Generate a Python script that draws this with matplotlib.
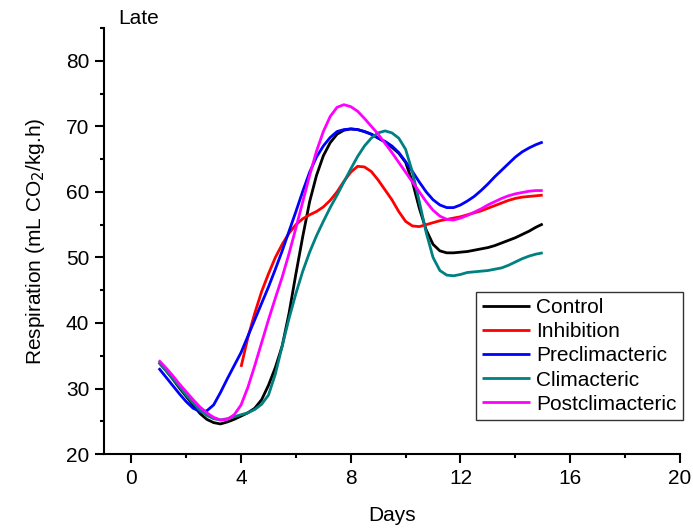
import numpy as np
import matplotlib
matplotlib.use("Agg")
import matplotlib.pyplot as plt
from matplotlib.ticker import MultipleLocator

plt.rcParams['font.family'] = ['Liberation Sans', 'DejaVu Sans']

# values every quarter day
days = np.arange(1, 15.01, 0.25)
days_inh = np.arange(4, 15.01, 0.25)

control = [34.0, 32.8, 31.5, 30.1, 28.8, 27.5, 26.2, 25.3, 24.8, 24.6, 24.9, 25.3,
           25.8, 26.3, 27.0, 28.3, 30.5, 33.2, 36.5, 41.5, 47.5, 53.2, 58.5, 62.5,
           65.5, 67.5, 68.8, 69.4, 69.6, 69.5, 69.2, 68.8, 68.2, 67.6, 66.8, 65.9,
           64.5, 61.5, 57.5, 54.2, 52.0, 51.0, 50.7, 50.7, 50.8, 50.9, 51.1, 51.3,
           51.5, 51.8, 52.2, 52.6, 53.0, 53.5, 54.0, 54.6, 55.1]
inhibition = [33.3, 37.8, 41.5, 44.8, 47.5, 50.0, 52.0, 53.7, 55.0, 55.9, 56.5, 57.0,
              57.7, 58.7, 60.0, 61.6, 63.0, 63.9, 63.8, 63.1, 61.8, 60.3, 58.8, 57.0,
              55.5, 54.8, 54.7, 55.0, 55.3, 55.6, 55.8, 56.0, 56.2, 56.5, 56.8, 57.1,
              57.5, 57.9, 58.3, 58.7, 59.0, 59.2, 59.3, 59.4, 59.5]
preclimacteric = [33.1, 31.8, 30.5, 29.2, 28.0, 27.0, 26.5, 26.6, 27.5, 29.4, 31.5, 33.5,
                  35.5, 38.0, 40.5, 43.0, 45.5, 48.2, 51.0, 54.0, 57.0, 60.1, 63.0, 65.3,
                  67.0, 68.3, 69.2, 69.5, 69.6, 69.5, 69.2, 68.8, 68.2, 67.7, 67.0, 66.0,
                  64.6, 63.1, 61.5, 60.0, 58.8, 58.0, 57.6, 57.6, 58.0, 58.6, 59.3, 60.2,
                  61.2, 62.3, 63.3, 64.3, 65.3, 66.1, 66.7, 67.2, 67.6]
climacteric = [34.0, 32.8, 31.6, 30.3, 29.0, 27.8, 26.7, 25.9, 25.4, 25.2, 25.4, 25.7,
               26.0, 26.3, 26.8, 27.6, 29.0, 32.2, 36.5, 40.7, 44.5, 47.9, 50.8, 53.3,
               55.5, 57.6, 59.5, 61.5, 63.5, 65.4, 67.0, 68.2, 69.0, 69.3, 69.0, 68.2,
               66.5, 63.0, 58.5, 53.8, 50.0, 48.0, 47.3, 47.2, 47.4, 47.7, 47.8, 47.9,
               48.0, 48.2, 48.4, 48.8, 49.3, 49.8, 50.2, 50.5, 50.7]
postclimacteric = [34.3, 33.2, 32.0, 30.7, 29.5, 28.3, 27.2, 26.3, 25.6, 25.2, 25.3, 26.0,
                   27.5, 30.2, 33.5, 37.0, 40.5, 43.8, 47.0, 50.6, 54.5, 58.5, 62.5, 66.2,
                   69.2, 71.5, 72.9, 73.3, 73.0, 72.3, 71.2, 70.0, 68.8, 67.4, 66.0, 64.5,
                   63.0, 61.5, 60.0, 58.5, 57.2, 56.3, 55.8, 55.7, 56.0, 56.4, 56.9, 57.4,
                   58.0, 58.5, 59.0, 59.4, 59.7, 59.9, 60.1, 60.2, 60.2]

fig = plt.figure(figsize=(6.93, 5.28), dpi=100)
ax = fig.add_axes([0.150, 0.140, 0.831, 0.807])

lw = 2.0
kw = dict(lw=lw, solid_joinstyle='round', solid_capstyle='butt')
ax.plot(days, control, color='black', label='Control', **kw)
ax.plot(days_inh, inhibition, color='#ff0000', label='Inhibition', **kw)
ax.plot(days, preclimacteric, color='#0000ff', label='Preclimacteric', **kw)
ax.plot(days, climacteric, color='#008080', label='Climacteric', **kw)
ax.plot(days, postclimacteric, color='#ff00ff', label='Postclimacteric', **kw)

ax.set_xlim(-1, 20)
ax.set_ylim(20, 85)
ax.set_xticks([0, 4, 8, 12, 16, 20])
ax.set_yticks([20, 30, 40, 50, 60, 70, 80])
ax.xaxis.set_minor_locator(MultipleLocator(2))
ax.yaxis.set_minor_locator(MultipleLocator(5))
ax.tick_params(which='major', length=6.5, width=1.5, labelsize=15, direction='out', pad=4)
ax.tick_params(which='minor', length=3, width=1.5, direction='out')
for s in ['top', 'right']:
    ax.spines[s].set_visible(False)
for s in ['left', 'bottom']:
    ax.spines[s].set_linewidth(1.5)

ax.set_xlabel('Days', fontsize=15, labelpad=13)
ax.set_ylabel('Respiration (mL CO$_2$/kg.h)', fontsize=15, labelpad=14)
fig.text(118 / 693, 1 - 18 / 528, 'Late', fontsize=15, va='center', ha='left')

leg = ax.legend(loc='lower right', bbox_to_anchor=(1.005, 0.08), borderaxespad=0,
                fontsize=15, frameon=True, fancybox=False, edgecolor='black',
                handlelength=2.3, handletextpad=0.3, labelspacing=0.25, borderpad=0.3)
leg.get_frame().set_linewidth(1.0)

fig.savefig('out.png', dpi=100)
